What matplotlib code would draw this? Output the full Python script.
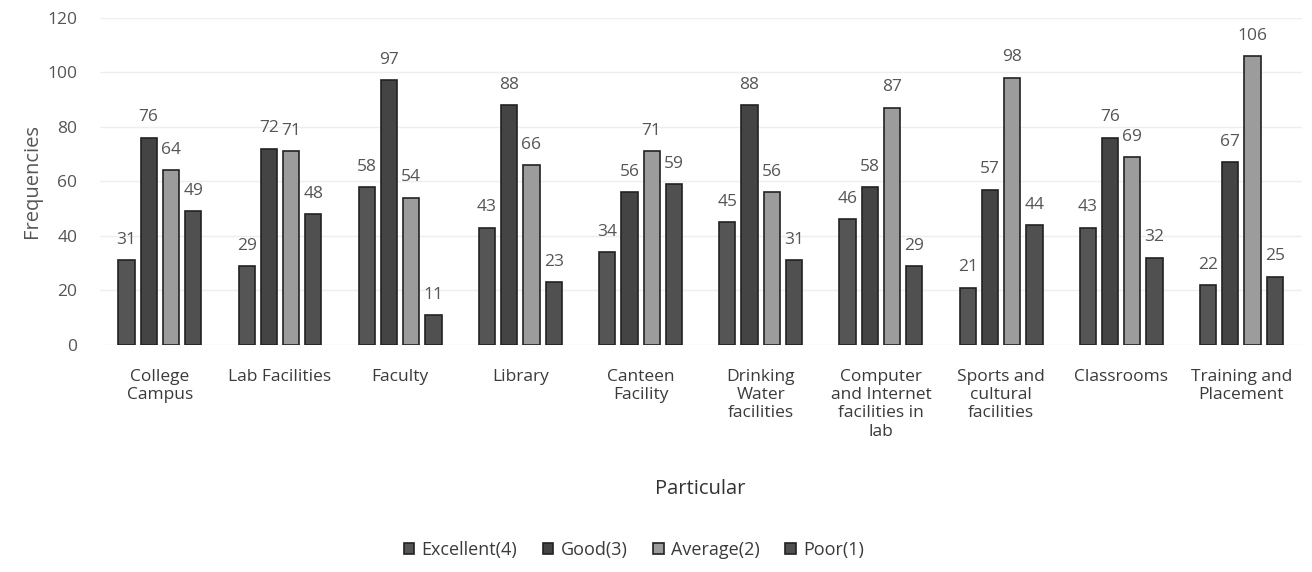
import matplotlib

matplotlib.use("Agg")

import numpy as np
import matplotlib.pyplot as plt

plt.rcParams["font.family"] = ["Open Sans", "DejaVu Sans"]

categories = [
    "College\nCampus",
    "Lab Facilities",
    "Faculty",
    "Library",
    "Canteen\nFacility",
    "Drinking\nWater\nfacilities",
    "Computer\nand Internet\nfacilities in\nlab",
    "Sports and\ncultural\nfacilities",
    "Classrooms",
    "Training and\nPlacement",
]
series_names = ["Excellent(4)", "Good(3)", "Average(2)", "Poor(1)"]
excellent = [31, 29, 58, 43, 34, 45, 46, 21, 43, 22]
good = [76, 72, 97, 88, 56, 88, 58, 57, 76, 67]
average = [64, 71, 54, 66, 71, 56, 87, 98, 69, 106]
poor = [49, 48, 11, 23, 59, 31, 29, 44, 32, 25]

colors = ["#555555", "#444444", "#9c9c9c", "#505050"]
text_color = "#555555"

fig = plt.figure(figsize=(13.12, 5.72), dpi=100)
ax = fig.add_axes([0.076, 0.397, 0.916, 0.572])

x = np.arange(len(categories))
step = 0.185
width = 0.135
for i, (name, vals) in enumerate(zip(series_names, [excellent, good, average, poor])):
    pos = x + (i - 1.5) * step
    bars = ax.bar(pos, vals, width, color=colors[i], edgecolor="#222222",
                  linewidth=1.2, label=name, zorder=3)
    for b, v in zip(bars, vals):
        ax.text(b.get_x() + b.get_width() / 2, v + 4.5, str(v), ha="center",
                va="bottom", fontsize=12.5, color=text_color)

ax.set_xlim(-0.5, len(categories) - 0.5)
ax.set_ylim(0, 120)
ax.set_yticks(range(0, 121, 20))
ax.set_xticks(x)
ax.set_xticklabels(categories, fontsize=12.5, color="#3a3a3a", linespacing=1.2)
ax.tick_params(axis="both", length=0, labelsize=12.5, labelcolor=text_color)
ax.tick_params(axis="x", pad=17, labelcolor="#3a3a3a")
ax.tick_params(axis="y", pad=16)
ax.grid(axis="y", color="#eeeeee", linewidth=1, zorder=0)
for s in ax.spines.values():
    s.set_visible(False)

ax.set_ylabel("Frequencies", fontsize=14.5, color=text_color, labelpad=4)
ax.set_xlabel("Particular", fontsize=14.5, color="#333333", labelpad=28)

fig.legend(loc="lower center", bbox_to_anchor=(0.483, -0.005), ncol=4, frameon=False,
           fontsize=13, handlelength=0.6, handleheight=0.6, handletextpad=0.4,
           columnspacing=1.4, labelcolor="#3a3a3a")

fig.savefig("out.png", dpi=100, facecolor="white")
